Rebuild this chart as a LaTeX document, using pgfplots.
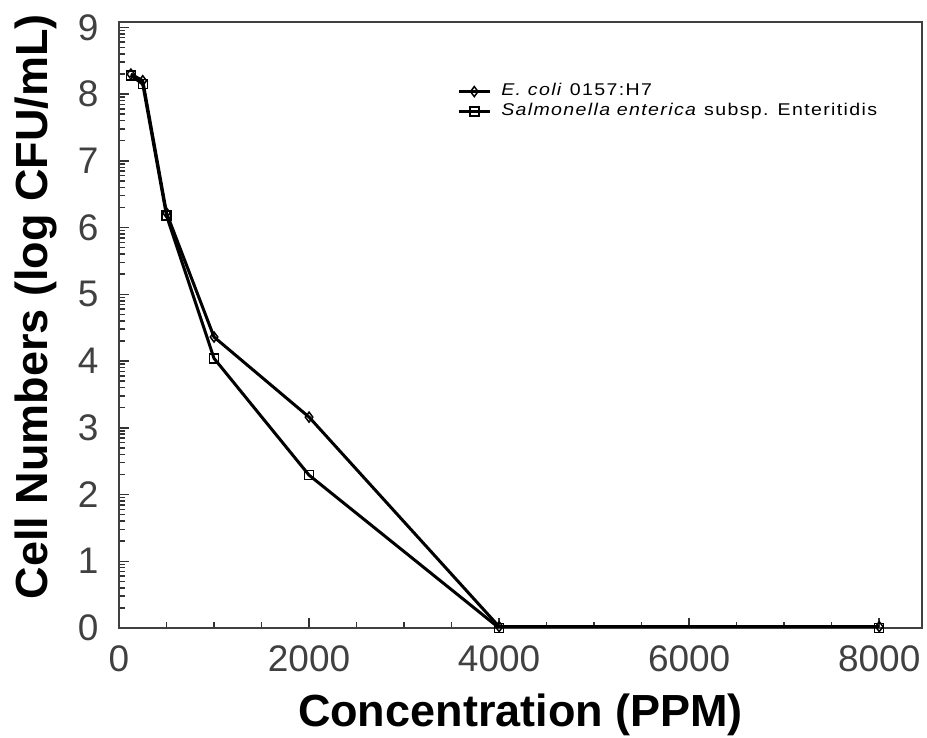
\documentclass[border=0pt]{standalone}
\usepackage{pgfplots}
\pgfplotsset{compat=1.18}
\usepackage{fontspec}
\setmainfont{Liberation Sans}
\newfontfamily\legfont[FakeStretch=1.15, LetterSpace=8]{Liberation Sans}
\begin{document}
\begin{tikzpicture}
\begin{axis}[
  width=803pt, height=606pt, scale only axis,
  xmin=0, xmax=8450, ymin=0, ymax=9.08,
  xtick={0,2000,4000,6000,8000},
  minor xtick={500,1000,...,8000},
  ytick={0,1,...,9},
  minor ytick={0.301,1.301,...,8.301, 0.477,1.477,...,8.477, 0.602,1.602,...,8.602, 0.699,1.699,...,8.699, 0.778,1.778,...,8.778, 0.845,1.845,...,8.845, 0.903,1.903,...,8.903, 0.954,1.954,...,8.954},
  tick align=inside,
  xtick pos=left, ytick pos=left,
  major tick length=10pt, minor tick length=6pt,
  axis line style={line width=2pt, black!75},
  every tick/.style={line width=1.5pt, black!80},
  scaled x ticks=false,
  /pgf/number format/assume math mode=true,
  /pgf/number format/1000 sep={},
  xticklabel style={font=\fontsize{37}{37}\selectfont, text=black!75, yshift=-14pt},
  yticklabel style={font=\fontsize{37}{37}\selectfont, text=black!75, xshift=-17pt},
  xlabel={\bfseries Concentration (PPM)},
  ylabel={\bfseries Cell Numbers (log CFU/mL)},
  xlabel style={font=\fontsize{45}{45}\selectfont, at={(axis description cs:0.5,0)}, anchor=north, yshift=-62pt},
  ylabel style={font=\fontsize{45}{45}\selectfont, at={(axis description cs:-0.073,0.53)}, anchor=south},
  legend style={at={(0.421,0.902)}, anchor=north west, draw=none, fill=none,
    font=\legfont\fontsize{17}{20}\selectfont, row sep=0pt, inner sep=0pt,
    nodes={text height=12pt, text depth=4pt, inner sep=2pt},
    /tikz/every odd column/.append style={column sep=8pt}},
  legend cell align=left,
  legend image code/.code={\draw[mark repeat=2,mark phase=2] plot coordinates {(0pt,0pt) (15.5pt,0pt) (31pt,0pt)};},
  every axis plot/.append style={line width=3pt, black},
]
\addplot[mark=diamond, mark size=5pt, mark options={fill=white, line width=1.5pt}]
  coordinates {(125,8.30) (250,8.20) (500,6.22) (1000,4.36) (2000,3.16) (4000,0.02) (8000,0.02)};
\addlegendentry{\textit{E. coli} 0157:H7}
\addplot[mark=square, mark size=4.5pt, mark options={fill=white, line width=1.5pt}]
  coordinates {(125,8.28) (250,8.15) (500,6.18) (1000,4.04) (2000,2.29) (4000,0.0) (8000,0.0)};
\addlegendentry{\textit{Salmonella enterica} subsp. Enteritidis}
\end{axis}
\pgfresetboundingbox
\useasboundingbox (current axis.south west) ++(-119pt,-110pt) rectangle ++(927pt,738pt);
\end{tikzpicture}
\end{document}
